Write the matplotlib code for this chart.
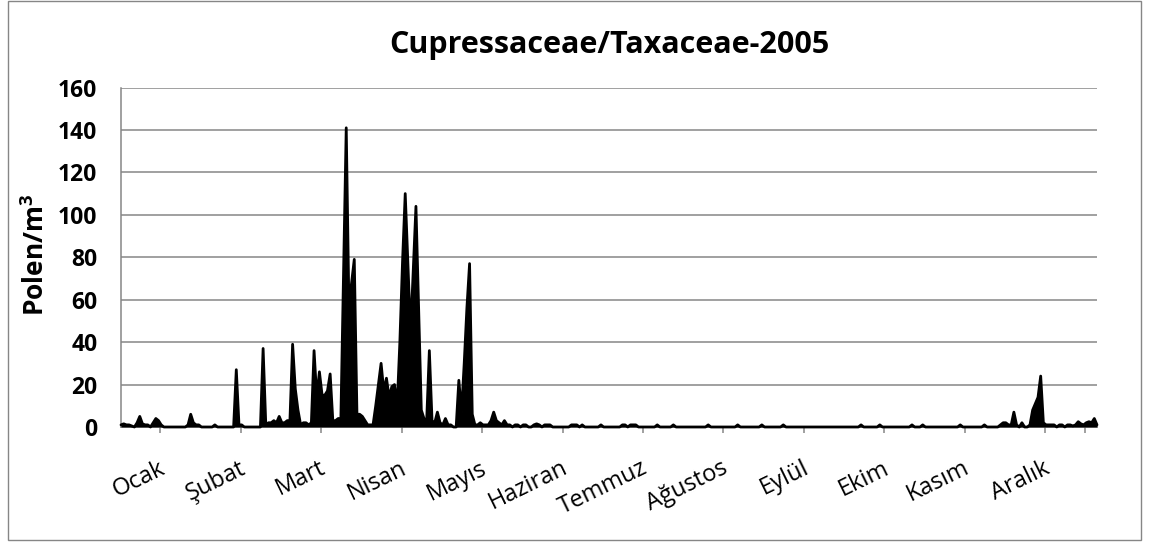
import matplotlib
matplotlib.use("Agg")
import matplotlib.pyplot as plt
from matplotlib.patches import Rectangle
from matplotlib.transforms import ScaledTranslation
import numpy as np

plt.rcParams['font.family'] = ['Open Sans', 'DejaVu Sans']
plt.rcParams['mathtext.fontset'] = 'custom'
plt.rcParams['mathtext.rm'] = 'Open Sans'
plt.rcParams['mathtext.bf'] = 'Open Sans:bold'

title = "Cupressaceae/Taxaceae-2005"
y_label = r"Polen/m$^{\mathbf{3}}$"
months = ["Ocak", "Şubat", "Mart", "Nisan", "Mayıs", "Haziran", "Temmuz",
          "Ağustos", "Eylül", "Ekim", "Kasım", "Aralık"]
# category index where each month label sits
month_pos = [14.7, 44.7, 74.7, 104.7, 134.7, 164.7, 194.7,
             224.7, 254.7, 284.7, 314.7, 344.7]
y_ticks = [0, 20, 40, 60, 80, 100, 120, 140, 160]

# daily pollen counts, 30 days per row
pollen = [
    1, 1.5, 1, 1, 0.5, 0, 2, 5, 1.5, 1, 1, 0, 2, 4, 3, 1, 0, 0, 0, 0, 0, 0, 0, 0, 0, 1, 6, 2, 1, 1,
    0, 0, 0, 0, 0, 1, 0, 0, 0, 0, 0, 0, 0, 27, 1, 1, 0, 0, 0, 0, 0, 0, 0, 37, 1, 2, 2, 3, 2, 5,
    2, 2, 3, 3, 39, 18, 8, 1, 2, 2, 1, 2, 36, 14, 26, 15, 15, 17, 25, 3, 3, 4, 4, 72, 141, 57, 68, 79, 6, 6,
    5, 3, 1, 1, 1, 10, 20, 30, 17, 23, 14, 19, 20, 10, 40, 78, 110, 77, 44, 74, 104, 56, 8, 4, 3, 36, 3, 2, 7, 2,
    1, 4, 1, 1, 0, 0, 22, 7, 30, 56, 77, 6, 1, 1, 2, 1, 1, 1, 3, 7, 3, 2, 1, 3, 1, 1, 0, 1, 1, 0,
    1, 1, 0, 0, 1, 1.5, 1, 0, 1, 1, 1, 0, 0, 0, 0, 0, 0, 0, 1, 1, 1, 0, 1, 0, 0, 0, 0, 0, 0, 1,
    0, 0, 0, 0, 0, 0, 0, 1, 1, 0, 1, 1, 1, 0, 0, 0, 0, 0, 0, 0, 1, 0, 0, 0, 0, 0, 1, 0, 0, 0,
    0, 0, 0, 0, 0, 0, 0, 0, 0, 1, 0, 0, 0, 0, 0, 0, 0, 0, 0, 0, 1, 0, 0, 0, 0, 0, 0, 0, 0, 1,
    0, 0, 0, 0, 0, 0, 0, 1, 0, 0, 0, 0, 0, 0, 0, 0, 0, 0, 0, 0, 0, 0, 0, 0, 0, 0, 0, 0, 0, 0,
    0, 0, 0, 0, 0, 0, 1, 0, 0, 0, 0, 0, 0, 1, 0, 0, 0, 0, 0, 0, 0, 0, 0, 0, 0, 1, 0, 0, 0, 1,
    0, 0, 0, 0, 0, 0, 0, 0, 0, 0, 0, 0, 0, 1, 0, 0, 0, 0, 0, 0, 0, 0, 1, 0, 0, 0, 0, 0, 1, 2,
    2, 1, 1, 7, 1, 0, 2, 0, 0, 1, 8, 11, 14, 24, 2, 1, 1, 1, 1, 0, 1, 1, 0, 1, 1, 0.5, 1, 2.5, 1.5, 1,
    2, 2.5, 2, 4, 1,
]
days = np.arange(len(pollen))

W, H = 1149, 547
fig = plt.figure(figsize=(W / 100, H / 100), dpi=100)
ax = fig.add_axes([121 / W, 120 / H, 976 / W, 339.5 / H])

gray = '#868686'

ax.fill_between(days, pollen, color='black', lw=0, zorder=3)
ax.plot(days, pollen, color='black', lw=2, solid_joinstyle='round',
        solid_capstyle='round', zorder=4, clip_on=False)

ax.set_xlim(0, len(pollen) - 1)
ax.set_ylim(0, 160)

ax.set_yticks(y_ticks)
ax.yaxis.grid(True, color=gray, lw=1.1, zorder=0)
ax.tick_params(axis='y', length=0, pad=17, labelsize=16.5)
for lab in ax.get_yticklabels():
    lab.set_fontweight('bold')

ax.set_xticks(month_pos)
ax.set_xticklabels(months, rotation=26, ha='right', rotation_mode='anchor')
ax.set_xticks([359.6], minor=True)
ax.tick_params(axis='x', which='both', direction='out', length=4, color=gray,
               width=1.1, pad=17, labelsize=17)
shift = ScaledTranslation(-2 / 100, 0, fig.dpi_scale_trans)
for lab in ax.get_xticklabels():
    lab.set_transform(lab.get_transform() + shift)

for s in ['top', 'right']:
    ax.spines[s].set_visible(False)
for s in ['left', 'bottom']:
    ax.spines[s].set_color(gray)
    ax.spines[s].set_linewidth(1.1)

fig.text(609 / W, 1 - 45 / H, title, ha='center', va='center',
         fontsize=22, fontweight='bold')
fig.text(36 / W, 1 - 255 / H, y_label, ha='center', va='center',
         rotation=90, fontsize=19, fontweight='bold')

fig.add_artist(Rectangle((7.5 / W, 1 - 539.5 / H), 1133.5 / W, 539 / H,
                         transform=fig.transFigure, fill=False, ec=gray, lw=1))

fig.savefig('out.png', dpi=100)
